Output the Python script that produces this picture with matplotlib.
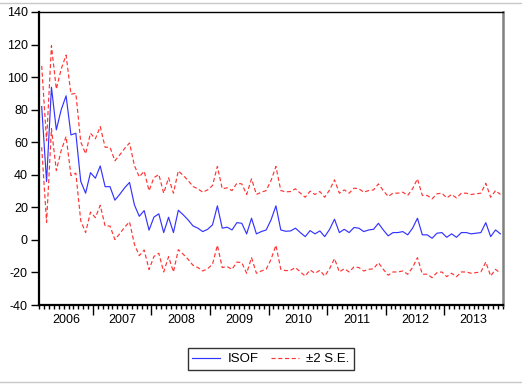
"""Recreate the ISOF forecast chart with +/- 2 S.E. bands."""

import matplotlib

matplotlib.use("Agg")
import matplotlib.pyplot as plt  # noqa: E402
import numpy as np  # noqa: E402
import pandas as pd  # noqa: E402
from matplotlib.lines import Line2D  # noqa: E402
from matplotlib.transforms import blended_transform_factory  # noqa: E402

# monthly sample 2006M02 - 2013M12
months = pd.period_range("2006-02", "2013-12", freq="M")

isof = [
    81.9, 35.8, 93.8, 67.6, 80.0, 88.5, 64.5, 65.5, 36.0, 28.7, 41.3,  # 2006
    37.9, 45.4, 32.7, 32.7, 24.4, 28.0, 32.0, 35.3, 21.5, 14.5, 18.0, 6.0,  # 2007
    14.0, 16.0, 4.5, 13.9, 4.5, 18.2, 15.4, 12.3, 8.6, 7.2, 5.1, 6.5,  # 2008
    9.2, 20.9, 7.2, 7.8, 6.1, 10.6, 10.2, 3.7, 13.3, 3.7, 5.1, 6.1,  # 2009
    12.3, 20.9, 6.1, 5.3, 5.5, 7.2, 4.5, 2.0, 5.7, 3.7, 5.5, 2.0,  # 2010
    6.5, 12.7, 4.5, 6.5, 4.5, 7.6, 7.2, 5.1, 6.1, 6.5, 10.2, 6.1,  # 2011
    2.5, 4.5, 4.5, 5.1, 3.1, 7.2, 13.3, 3.1, 3.1, 1.0, 4.1, 4.5,  # 2012
    1.6, 3.7, 1.6, 4.5, 4.5, 3.7, 4.1, 4.5, 10.6, 2.0, 6.1, 3.7,  # 2013
]

# width of the band (2 x standard error)
two_se = [
    25.0, 25.0, 25.5, 25.0, 25.0, 25.0, 25.0, 24.5, 24.2, 24.2, 24.2,
    24.2, 24.2, 24.2, 24.2, 24.2, 24.2, 24.2, 24.2, 24.2, 24.2, 24.2, 24.2,
    24.2, 24.2, 24.2, 24.2, 24.2, 24.2, 24.2, 24.2, 24.2, 24.2, 24.2, 24.2,
    24.2, 24.2, 24.2, 24.2, 24.2, 24.2, 24.2, 24.2, 24.2, 24.2, 24.2, 24.2,
    24.2, 24.2, 24.2, 24.2, 24.2, 24.2, 24.2, 24.2, 24.2, 24.2, 24.2, 24.2,
    24.2, 24.2, 24.2, 24.2, 24.2, 24.2, 24.2, 24.2, 24.2, 24.2, 24.2, 24.2,
    24.2, 24.2, 24.2, 24.2, 24.2, 24.2, 24.2, 24.2, 24.2, 24.2, 24.2, 24.2,
    24.2, 24.2, 24.2, 24.2, 24.2, 24.2, 24.2, 24.2, 24.2, 24.2, 24.2, 24.2,
]

y_ticks = [-40, -20, 0, 20, 40, 60, 80, 100, 120, 140]
years = [2006, 2007, 2008, 2009, 2010, 2011, 2012, 2013]

plt.rcParams["font.family"] = ["Liberation Sans", "DejaVu Sans"]
plt.rcParams["axes.unicode_minus"] = False

BLUE = "#3434ff"
RED = "#ff3434"
DASH = (3.5, 2.2)


def plot_forecast(output_path: str) -> None:
    x = np.arange(len(months))
    mid = np.array(isof)
    band = np.array(two_se)

    fig = plt.figure(figsize=(5.22, 3.87), dpi=100)
    ax = fig.add_axes([39 / 522, 1 - 305 / 387, 464 / 522, 293 / 387])

    ax.plot(x, mid, color=BLUE, linewidth=0.85)
    ax.plot(x, mid + band, color=RED, linewidth=0.85, dashes=DASH)
    ax.plot(x, mid - band, color=RED, linewidth=0.85, dashes=DASH)

    ax.set_xlim(-0.55, len(months) - 0.47)
    ax.set_ylim(-40, 140)
    ax.set_yticks(y_ticks)
    ax.set_yticklabels([str(v) for v in y_ticks])

    # year boundaries (long ticks) and month boundaries (short ticks)
    month_no = np.array([p.month for p in months])
    boundaries = x[month_no == 1] - 0.5
    ax.set_xticks(boundaries)
    ax.set_xticklabels([])
    ax.set_xticks(np.arange(-0.5, len(months)), minor=True)
    ax.tick_params(axis="x", which="major", direction="out", length=7, width=1)
    ax.tick_params(axis="x", which="minor", direction="out", length=3, width=1)
    ax.tick_params(axis="y", direction="out", length=6, width=1, pad=2,
                   labelsize=9)

    trans = blended_transform_factory(ax.transData, ax.transAxes)
    year_no = np.array([p.year for p in months])
    for yr in years:
        idx = x[year_no == yr]
        centre = (max(idx.min() - 0.5, -0.5) + idx.max() + 0.5) / 2
        ax.text(centre, -0.03, str(yr), transform=trans, ha="center",
                va="top", fontsize=9)

    for side in ("left", "bottom"):
        ax.spines[side].set_linewidth(1.6)
        ax.spines[side].set_color("black")
    ax.spines["top"].set_linewidth(1.0)
    ax.spines["right"].set_linewidth(1.8)
    ax.spines["right"].set_color("#808080")

    handles = [
        Line2D([], [], color=BLUE, linewidth=0.85),
        Line2D([], [], color=RED, linewidth=0.85, dashes=DASH),
    ]
    leg = fig.legend(handles, ["ISOF", "\u00b12 S.E."], loc="center",
                     bbox_to_anchor=(271 / 522, 1 - 359 / 387), ncol=2,
                     fontsize=9.5, frameon=True, fancybox=False,
                     edgecolor="black", handlelength=2.1, handletextpad=0.55,
                     columnspacing=1.0, borderpad=0.35)
    leg.get_frame().set_linewidth(1.0)

    # grey window edges of the original screenshot
    fig.add_artist(Line2D([0, 1], [1 - 3 / 387] * 2, color="#c8c8c8", lw=1))
    fig.add_artist(Line2D([0, 1], [1 - 382 / 387] * 2, color="#c8c8c8", lw=1))

    fig.savefig(output_path, dpi=100)
    plt.close(fig)


plot_forecast("out.png")
